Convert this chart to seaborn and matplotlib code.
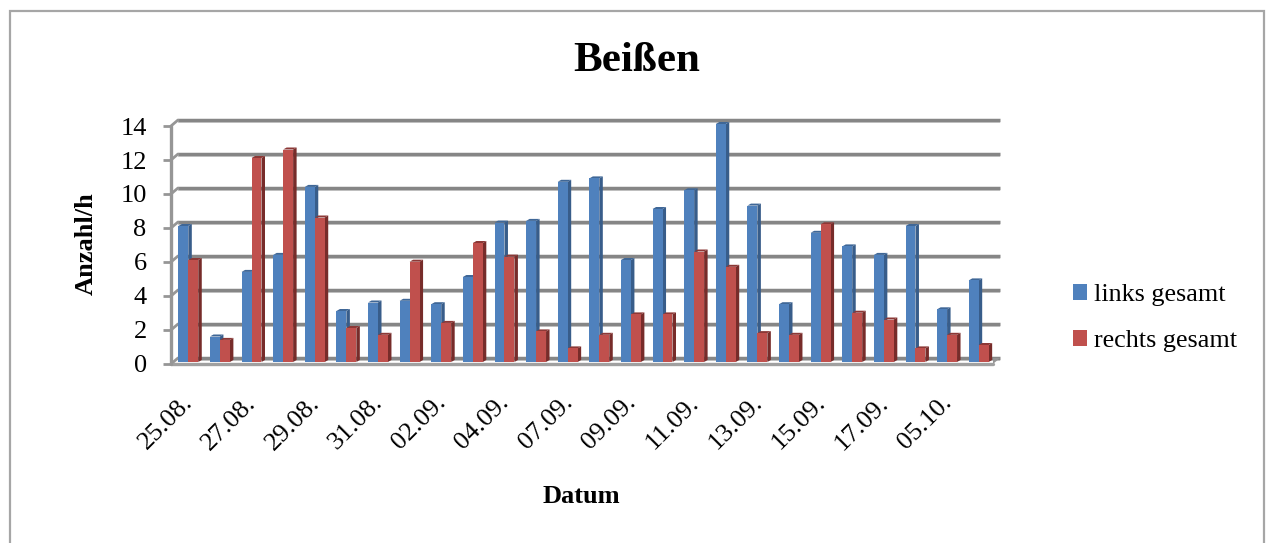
import matplotlib
matplotlib.use("Agg")
import matplotlib.pyplot as plt
import matplotlib.transforms as mtrans
from matplotlib.patches import Polygon, Rectangle
import pandas as pd
import seaborn as sns

# Werte
datum = ['25.08.', '26.08.', '27.08.', '28.08.', '29.08.', '30.08.', '31.08.', '01.09.',
         '02.09.', '03.09.', '04.09.', '05.09.', '07.09.', '08.09.', '09.09.', '10.09.',
         '11.09.', '12.09.', '13.09.', '14.09.', '15.09.', '16.09.', '17.09.', '18.09.',
         '05.10.', '06.10.']
links = [8.0, 1.5, 5.3, 6.3, 10.3, 3.0, 3.5, 3.6, 3.4, 5.0, 8.2, 8.3, 10.6,
         10.8, 6.0, 9.0, 10.1, 14.0, 9.2, 3.4, 7.6, 6.8, 6.3, 8.0, 3.1, 4.8]
rechts = [6.0, 1.3, 12.0, 12.5, 8.5, 2.0, 1.6, 5.9, 2.3, 7.0, 6.2, 1.8, 0.8,
          1.6, 2.8, 2.8, 6.5, 5.6, 1.7, 1.6, 8.1, 2.9, 2.5, 0.8, 1.6, 1.0]
y_ticks = [0, 2, 4, 6, 8, 10, 12, 14]
reihen = ['links gesamt', 'rechts gesamt']

df = pd.DataFrame({'Datum': datum * 2,
                   'Anzahl': links + rechts,
                   'Seite': [reihen[0]] * len(datum) + [reihen[1]] * len(datum)})

sns.set_theme(style="white")
plt.rcParams['font.family'] = ['Liberation Serif', 'DejaVu Sans']

W, H = 1266, 543
fig = plt.figure(figsize=(W / 100, H / 100), dpi=100)
ax = fig.add_axes([171 / W, (H - 364) / H, 822 / W, 238 / H])

farben = {reihen[0]: '#4F81BD', reihen[1]: '#C0504D'}
sns.barplot(data=df, x='Datum', y='Anzahl', hue='Seite', hue_order=reihen, palette=farben,
            order=datum, width=0.63, gap=0, saturation=1, linewidth=0, ax=ax)
ax.set_xlim(-0.5, len(datum) - 0.5)
ax.set_ylim(0, 14)
for s in ax.spines.values():
    s.set_visible(False)

# Pixel -> Datenkoordinaten
px = len(datum) / 822
py = 14 / 238


def versatz(dx, dy):
    return ax.transData + mtrans.ScaledTranslation(dx / 100, dy / 100, fig.dpi_scale_trans)


# Rueckwand und Boden
wand = versatz(7, 6)
ax.hlines(y_ticks, -0.5, len(datum) - 0.5, color='#D0D0D0', lw=1.4, transform=versatz(7, 4.5),
          clip_on=False, zorder=0.4)
ax.hlines(y_ticks, -0.5, len(datum) - 0.5, color='#868686', lw=2.5, transform=wand,
          clip_on=False, zorder=0.5)
for y in y_ticks:
    ax.plot([-0.5, -0.5 + 7 * px], [y, y + 6 * py], color='#969696', lw=2,
            clip_on=False, zorder=0.6, solid_capstyle='round')
x_r = len(datum) - 0.5
ax.add_patch(Polygon([(x_r, 0), (x_r + 7 * px, 6 * py), (x_r, 6 * py)], closed=True,
                     fc='#969696', ec='none', clip_on=False, zorder=0.6))
ax.plot([-0.5, x_r], [0, 0], color='#A0A0A0', lw=2.4, clip_on=False, zorder=0.7)
ax.plot([-0.5, -0.5], [0, 14], color='#969696', lw=2.4, clip_on=False, zorder=0.7)

# 3D-Optik: Seiten und Deckel aus den Balken selbst
dunkel = [('#385D8A', '#3F6797'), ('#772C2A', '#8C3836')]
t_balken = versatz(1.5, 2)
tiefe_x, tiefe_y = 3.5 * px, 2 * py
for i, cont in enumerate(ax.containers):
    seite, deckel = dunkel[i]
    for p in cont.patches:
        x0, b, h = p.get_x(), p.get_width(), p.get_height()
        x1 = x0 + b
        p.set_transform(t_balken)
        p.set_clip_on(False)
        p.set_zorder(2 + 2 * i)
        ax.add_patch(Polygon([(x1, 0), (x1 + tiefe_x, tiefe_y), (x1 + tiefe_x, h + tiefe_y), (x1, h)],
                             closed=True, fc=seite, ec='none', transform=t_balken,
                             clip_on=False, zorder=1.5 + 2 * i))
        ax.add_patch(Polygon([(x0, h), (x1, h), (x1 + tiefe_x, h + tiefe_y), (x0 + tiefe_x, h + tiefe_y)],
                             closed=True, fc=deckel, ec='none', transform=t_balken,
                             clip_on=False, zorder=1.5 + 2 * i))

# Achsen
ax.set_yticks(y_ticks)
ax.tick_params(axis='y', length=5.5, width=2, color='#969696', pad=12, labelsize=19,
               left=True, labelcolor='black')
ax.set_xticks(range(0, len(datum), 2))
ax.set_xticklabels(datum[::2], rotation=45, ha='right', rotation_mode='anchor', fontsize=19, color='black')
ax.tick_params(axis='x', length=0, pad=20)
for lab in ax.get_xticklabels():
    lab.set_transform(lab.get_transform() + mtrans.ScaledTranslation(-5 / 100, 0, fig.dpi_scale_trans))

ax.set_xlabel('Datum', fontweight='bold', fontsize=19, color='black')
ax.set_ylabel('Anzahl/h', fontweight='bold', fontsize=19, color='black')
ax.xaxis.set_label_coords(0.499, -0.555)
ax.yaxis.set_label_coords(-0.103, 0.504)
ax.xaxis.label.set_verticalalignment('center')
ax.yaxis.label.set_verticalalignment('center')
fig.text(637 / W, (H - 61) / H, 'Beißen', fontweight='bold', fontsize=31, color='black',
         ha='center', va='center')

leg = ax.legend(handles=[c.patches[0] for c in ax.containers], labels=reihen,
                loc='center left', bbox_to_anchor=(1073 / W, (H - 318) / H),
                bbox_transform=fig.transFigure, frameon=False, fontsize=18.8,
                handlelength=0.55, handleheight=0.55, handletextpad=0.25, labelspacing=0.92,
                borderpad=0, borderaxespad=0)
for t in leg.get_texts():
    t.set_color('black')

# Rahmen (unten abgeschnitten)
fig.add_artist(Rectangle((9.5 / W, -0.02), 1254.5 / W, (H - 11) / H + 0.02, transform=fig.transFigure,
                         fc='none', ec='#A6A6A6', lw=1.6))

fig.savefig('out.png', dpi=100, facecolor='white')
